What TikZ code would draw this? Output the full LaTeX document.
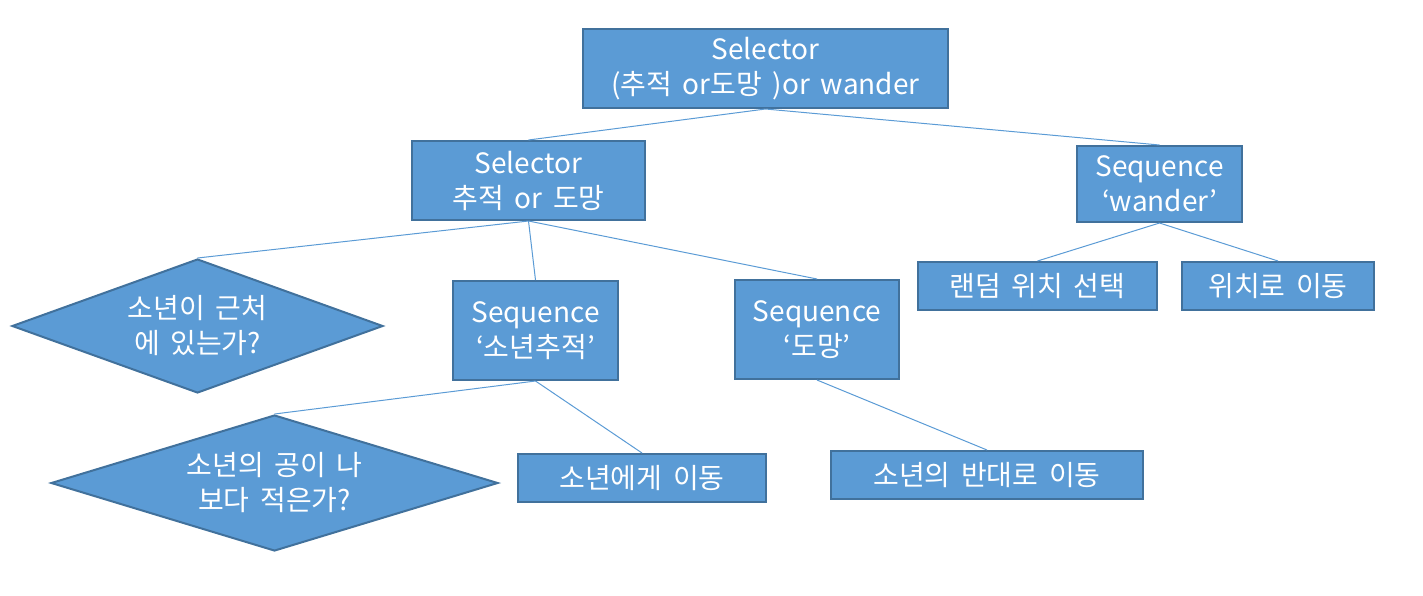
\documentclass[tikz,border=0pt]{standalone}
\usepackage{fontspec}
\setmainfont[WordSpace=1.7]{Noto Sans CJK KR}
\usetikzlibrary{shapes.geometric}
\definecolor{boxfill}{HTML}{5B9BD5}
\definecolor{boxline}{HTML}{41719C}
\tikzset{
 bt/.style={draw=boxline,line width=2pt,fill=boxfill,text=white,inner sep=0pt,align=center,font=\fontsize{28}{35}\selectfont},
 box/.style={bt,rectangle,minimum width=#1},
 cond/.style={bt,diamond},
 link/.style={draw=boxfill,line width=1pt}
}
\begin{document}
\begin{tikzpicture}[x=1pt,y=-1pt]
\useasboundingbox (0,0) rectangle (1423,595);
\node[box=365pt,minimum height=79pt] (root) at (765.5,68.5) {Selector\\(추적 or도망 )or wander};
\node[box=233pt,minimum height=79pt] (sel) at (528.5,180.5) {Selector\\추적 or 도망};
\node[box=165pt,minimum height=76pt] (wander) at (1159.5,184) {Sequence\\‘wander’};
\node[cond,minimum width=371pt,minimum height=134pt,aspect=2.77] (near) at (197.5,326) {소년이 근처\\에 있는가?};
\node[box=165pt,minimum height=99pt] (chase) at (535.5,330.5) {Sequence\\‘소년추적’};
\node[box=164pt,minimum height=99pt] (flee) at (817,329.5) {Sequence\\‘도망’};
\node[box=239pt,minimum height=48pt] (rand) at (1037.5,286) {랜덤 위치 선택};
\node[box=192pt,minimum height=48pt] (go) at (1278,286) {위치로 이동};
\node[cond,minimum width=447pt,minimum height=136pt,aspect=3.29] (ball) at (274.5,483) {소년의 공이 나\\보다 적은가?};
\node[box=248pt,minimum height=48pt] (tob) at (642,478) {소년에게 이동};
\node[box=312pt,minimum height=48pt] (away) at (987,475) {소년의 반대로 이동};
\draw[link] (root.south)--(sel.north);
\draw[link] (root.south)--(wander.north);
\draw[link] (sel.south)--(near.north);
\draw[link] (sel.south)--(chase.north);
\draw[link] (sel.south)--(flee.north);
\draw[link] (wander.south)--(rand.north);
\draw[link] (wander.south)--(go.north);
\draw[link] (chase.south)--(ball.north);
\draw[link] (chase.south)--(tob.north);
\draw[link] (flee.south)--(away.north);
\end{tikzpicture}
\end{document}
